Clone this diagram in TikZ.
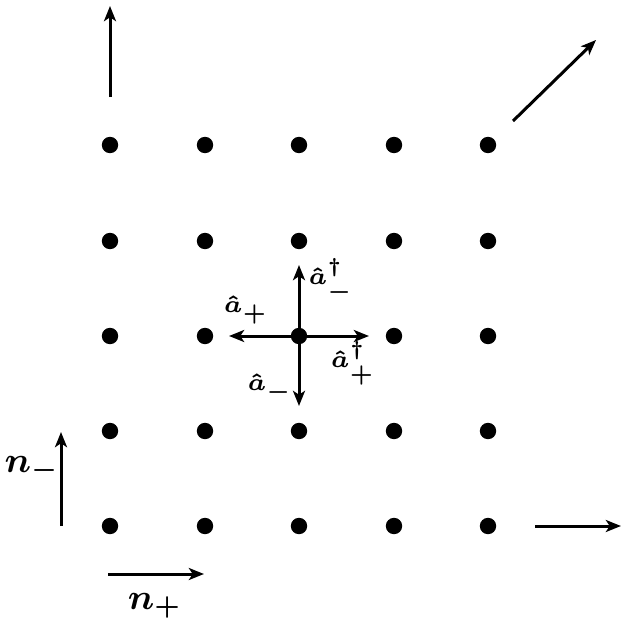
\documentclass[tikz,border=0pt]{standalone}
\usetikzlibrary{arrows.meta}
\begin{document}
\begin{tikzpicture}[x=0.25pt,y=-0.25pt,
  dot/.style={circle,fill=black,inner sep=0pt,minimum size=4.1pt},
  arr/.style={line width=0.75pt,-{Stealth[length=3.8pt,width=3pt,inset=1pt]}},
  small/.style={font=\fontsize{6.2}{7}\selectfont\boldmath,inner sep=0pt},
  big/.style={font=\fontsize{8.6}{10}\selectfont\boldmath,inner sep=0pt}]
\useasboundingbox (0,0) rectangle (622,621);
\foreach \i/\x in {1/110,2/205,3/299,4/394,5/488}
  \foreach \j/\y in {1/145,2/241,3/336,4/431,5/526}
    \node[dot] (d\i\j) at (\x,\y) {};
% axes-like arrows
\coordinate (tl0) at (110,97); \coordinate (tl1) at (110,6);
\coordinate (tr0) at (513,121); \coordinate (tr1) at (596,40);
\coordinate (br0) at (535,526); \coordinate (br1) at (621,526);
\coordinate (nm0) at (61,526); \coordinate (nm1) at (61,432);
\coordinate (np0) at (108,574); \coordinate (np1) at (204,574);
\draw[arr] (tl0) -- (tl1);
\draw[arr] (tr0) -- (tr1);
\draw[arr] (br0) -- (br1);
\draw[arr] (nm0) -- (nm1);
\draw[arr] (np0) -- (np1);
\node[big] (lnm) at (32,469) {$n_-$};
\node[big] (lnp) at (155,606) {$n_+$};
% ladder operators
\coordinate (up) at (299,265);
\coordinate (lf) at (229,336);
\coordinate (rt) at (369,336);
\coordinate (dn) at (299,406);
\draw[arr] (d33.center) -- (up);
\draw[arr] (d33.center) -- (lf);
\draw[arr] (d33.center) -- (rt);
\draw[arr] (d33.center) -- (dn);
\node[small] (lup) at (331,280) {$\hat a_-^\dagger$};
\node[small] (llf) at (246,310) {$\hat a_+$};
\node[small] (lrt) at (353,363) {$\hat a_+^\dagger$};
\node[small] (ldn) at (270,388) {$\hat a_-$};
\end{tikzpicture}
\end{document}
